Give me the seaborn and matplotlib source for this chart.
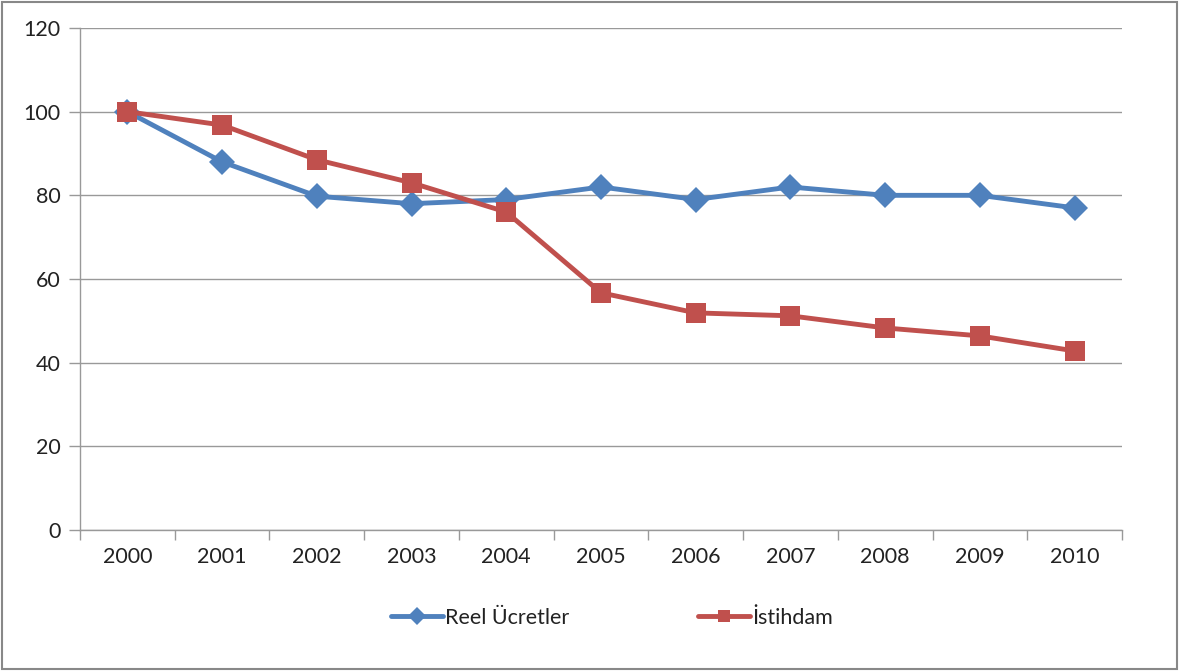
import pandas as pd
import numpy as np
import matplotlib.pyplot as plt
import seaborn as sns
from matplotlib.patches import Rectangle

# data
years = ['2000', '2001', '2002', '2003', '2004', '2005', '2006', '2007', '2008', '2009', '2010']
reel_ucretler = [100, 88, 79.8, 78, 79, 82, 79, 82, 80, 80, 77]
istihdam = [100, 96.8, 88.5, 83, 76, 56.7, 51.9, 51.2, 48.3, 46.4, 42.8]
series_names = ['Reel Ücretler', 'İstihdam']

df = pd.DataFrame({
    'pos': list(range(len(years))) * 2,
    'value': reel_ucretler + istihdam,
    'series': [series_names[0]] * len(years) + [series_names[1]] * len(years),
})

sns.set_style('white')
plt.rcParams['font.family'] = ['Lato', 'DejaVu Sans']

fig = plt.figure(figsize=(11.81, 6.72), dpi=100)
ax = fig.add_axes([80 / 1181, 1 - 530 / 672, 1042 / 1181, 502 / 672])

sns.lineplot(data=df, x='pos', y='value', hue='series', style='series',
             palette=['#4F81BD', '#C0504D'], markers=['D', 's'], dashes=False,
             markersize=13, linewidth=3.5, markeredgewidth=0, ax=ax, legend=True)
# bigger markers, square a touch bigger than the diamond
ax.lines[0].set_markersize(13)
ax.lines[1].set_markersize(15)

ax.set_xlim(-0.5, len(years) - 0.5)
ax.set_ylim(0, 120)
ax.set_yticks(np.arange(0, 121, 20))
ax.set_xticks(range(len(years)))
ax.set_xticklabels(years)
ax.set_xticks(np.arange(-0.5, len(years), 1), minor=True)
ax.tick_params(axis='x', which='major', length=0, pad=12, labelsize=15.5, labelcolor='#222222')
ax.tick_params(axis='x', which='minor', length=7, color='#999999', width=1, direction='out', bottom=True)
ax.tick_params(axis='y', length=8, color='#999999', width=1, direction='out', left=True, pad=6,
               labelsize=15.5, labelcolor='#222222')
ax.yaxis.grid(True, color='#999999', linewidth=1)
ax.set_axisbelow(True)
for s in ['top', 'right']:
    ax.spines[s].set_visible(False)
for s in ['left', 'bottom']:
    ax.spines[s].set_color('#999999')
    ax.spines[s].set_linewidth(1)
ax.set_xlabel('')
ax.set_ylabel('')

handles, labels = ax.get_legend_handles_labels()
ax.get_legend().remove()
fig.legend(handles, labels, loc='center', bbox_to_anchor=(612 / 1181, 1 - 618 / 672), ncol=2,
           frameon=False, fontsize=15.5, columnspacing=6.0, handlelength=2.4, handletextpad=0.1,
           markerscale=0.7, labelcolor='#222222')

fig.patches.append(Rectangle((0.002, 0.004), 0.995, 0.993, transform=fig.transFigure,
                             fill=False, edgecolor='#888888', linewidth=1.5))

fig.savefig('out.png', dpi=100)
